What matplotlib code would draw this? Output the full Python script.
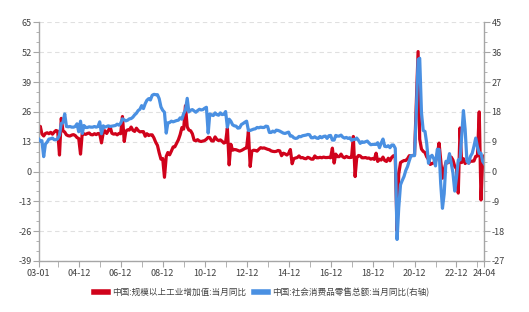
import matplotlib
matplotlib.use("Agg")
from matplotlib import pyplot as plt
from matplotlib.lines import Line2D
from matplotlib.ticker import MultipleLocator
import pandas as pd

plt.rcParams['font.family'] = ['Noto Sans CJK SC', 'DejaVu Sans']
plt.rcParams['axes.unicode_minus'] = False

# 中国:规模以上工业增加值:当月同比 (左轴), 2003-01 .. 2024-04
ind = (
    [17.5, 19.7, 16.4, 15.5, 16.6, 16.9, 16.5, 17.1, 16.3, 17.2, 17.9, 17.6]    # 2003
    + [7.2, 23.2, 17.8, 17.2, 16.0, 15.6, 15.5, 15.9, 16.1, 15.7, 14.8, 14.4]   # 2004
    + [7.6, 16.9, 16.4, 16.2, 16.6, 16.8, 16.1, 16.0, 16.5, 16.1, 16.6, 16.5]   # 2005
    + [12.5, 17.0, 17.8, 16.6, 17.9, 19.5, 16.7, 16.3, 16.5, 16.0, 16.6, 16.5]  # 2006
    + [24.0, 13.1, 17.6, 18.2, 18.1, 19.4, 18.0, 17.5, 18.9, 17.9, 17.3, 17.4]  # 2007
    + [17.4, 15.4, 16.5, 15.7, 16.0, 16.0, 14.7, 12.8, 11.4, 8.2, 5.4, 5.7]     # 2008
    + [-2.5, 6.6, 8.3, 7.3, 8.9, 10.7, 10.8, 12.3, 13.9, 16.1, 19.2, 18.5]      # 2009
    + [28.7, 19.5, 18.1, 17.8, 16.5, 13.7, 13.4, 13.9, 13.3, 13.1, 13.3, 13.5]  # 2010
    + [14.1, 14.9, 14.8, 13.4, 13.3, 15.1, 14.0, 13.5, 13.8, 13.2, 12.4, 12.8]  # 2011
    + [19.0, 2.9, 11.9, 9.3, 9.6, 9.5, 9.2, 8.9, 9.2, 9.6, 10.1, 10.3]          # 2012
    + [17.5, 2.2, 8.9, 9.3, 9.2, 8.9, 9.7, 10.4, 10.2, 10.3, 10.0, 9.7]         # 2013
    + [9.5, 9.0, 8.8, 8.7, 8.8, 9.2, 9.0, 6.9, 8.0, 7.7, 7.2, 7.9]              # 2014
    + [9.6, 3.4, 5.6, 5.9, 6.1, 6.8, 6.0, 6.1, 5.7, 5.6, 6.2, 5.9]              # 2015
    + [5.4, 5.4, 6.8, 6.0, 6.0, 6.2, 6.0, 6.3, 6.1, 6.1, 6.2, 6.0]              # 2016
    + [10.2, 3.7, 7.6, 6.5, 6.5, 7.6, 6.4, 6.0, 6.6, 6.2, 6.1, 6.2]             # 2017
    + [15.3, -2.2, 6.0, 7.0, 6.8, 6.0, 6.0, 6.1, 5.8, 5.9, 5.4, 5.7]            # 2018
    + [5.3, 8.0, 4.4, 5.4, 5.0, 6.3, 4.8, 4.4, 5.8, 4.7, 6.2, 6.9]              # 2019
    + [6.0, -25.9, -1.1, 3.9, 4.4, 4.8, 4.8, 5.6, 6.9, 6.9, 7.0, 7.3]           # 2020
    + [30.0, 52.3, 14.1, 9.8, 8.8, 8.3, 6.4, 5.3, 3.1, 3.5, 3.8, 4.3]           # 2021
    + [7.5, 12.4, 5.0, -2.9, 0.7, 3.9, 3.8, 4.2, 6.3, 5.0, 2.2, 1.3]            # 2022
    + [-9.4, 19.0, 3.9, 5.6, 3.5, 4.4, 3.7, 4.5, 4.5, 4.6, 6.6, 6.8]            # 2023
    + [26.0, -12.4, 4.5, 6.7]                                                    # 2024
)

# 中国:社会消费品零售总额:当月同比 (右轴)
ret = (
    [9.9, 9.2, 9.3, 4.5, 8.3, 8.9, 9.8, 9.9, 10.1, 9.6, 9.6, 9.9]               # 2003
    + [11.0, 14.5, 14.8, 17.4, 13.6, 13.5, 13.6, 13.4, 13.4, 13.6, 14.4, 12.0]  # 2004
    + [15.2, 11.5, 13.9, 13.3, 13.3, 13.5, 13.4, 13.4, 13.6, 13.4, 13.6, 15.0]  # 2005
    + [11.4, 13.8, 13.4, 13.6, 13.8, 13.6, 13.7, 13.8, 13.9, 14.3, 14.0, 14.6]  # 2006
    + [15.9, 15.6, 15.3, 15.5, 15.9, 16.0, 16.4, 17.1, 17.6, 18.4, 18.8, 19.9]  # 2007
    + [19.0, 20.5, 21.5, 22.0, 21.6, 23.0, 23.3, 23.2, 23.2, 22.0, 19.5, 18.5]  # 2008
    + [17.9, 11.6, 14.7, 14.8, 15.2, 15.0, 15.2, 15.4, 15.5, 16.2, 15.8, 17.5]  # 2009
    + [18.5, 22.1, 18.0, 18.5, 18.7, 18.3, 17.9, 18.4, 18.8, 18.6, 18.7, 19.1]  # 2010
    + [19.4, 11.6, 17.4, 17.1, 16.9, 17.7, 17.2, 17.0, 17.7, 17.2, 17.3, 18.1]  # 2011
    + [13.4, 15.8, 15.2, 14.1, 13.8, 13.7, 13.1, 13.2, 14.2, 14.5, 14.9, 15.2]  # 2012
    + [12.4, 12.4, 12.6, 12.8, 12.9, 13.3, 13.2, 13.4, 13.3, 13.3, 13.7, 13.6]  # 2013
    + [11.8, 11.8, 12.2, 11.9, 12.5, 12.4, 12.2, 11.9, 11.6, 11.5, 11.7, 11.9]  # 2014
    + [10.7, 10.7, 10.2, 10.0, 10.1, 10.6, 10.5, 10.8, 10.9, 11.0, 11.2, 11.1]  # 2015
    + [10.2, 10.2, 10.5, 10.1, 10.0, 10.6, 10.2, 10.6, 10.7, 10.0, 10.8, 10.9]  # 2016
    + [9.5, 9.5, 10.9, 10.7, 10.7, 11.0, 10.4, 10.1, 10.3, 10.0, 10.2, 9.4]     # 2017
    + [9.7, 9.7, 10.1, 9.4, 8.5, 9.0, 8.8, 9.0, 9.2, 8.6, 8.1, 8.2]             # 2018
    + [8.2, 8.2, 8.7, 7.2, 8.6, 9.8, 7.6, 7.5, 7.8, 7.2, 8.0, 8.0]              # 2019
    + [7.0, -20.5, -11.0, -4.0, -2.7, -1.5, 0.3, 1.5, 3.3, 4.8, 4.8, 4.8]       # 2020
    + [18.0, 33.8, 34.2, 17.7, 12.4, 12.1, 8.5, 2.5, 4.4, 4.9, 3.9, 1.7]        # 2021
    + [6.7, 6.7, -3.5, -11.1, -6.7, 3.1, 2.7, 5.4, 2.5, -0.5, -5.9, -1.8]       # 2022
    + [3.5, 3.5, 10.6, 18.4, 12.7, 3.1, 2.5, 4.6, 5.5, 7.6, 10.1, 7.4]          # 2023
    + [5.5, 5.5, 3.1, 2.3]                                                       # 2024
)

fechas = pd.date_range('2003-01-01', periods=len(ind), freq='MS')
etiquetas = ['中国:规模以上工业增加值:当月同比', '中国:社会消费品零售总额:当月同比(右轴)']
rojo = '#d0021b'
azul = '#4a90e2'
gris = '#a6a6a6'
texto = '#404040'

fig = plt.figure(figsize=(5.29, 3.12), dpi=100)
ax = fig.add_axes([0.0728, 0.1635, 0.843, 0.7645])
ax2 = ax.twinx()

ax.plot(fechas, ind, color=rojo, lw=2.3, solid_joinstyle='round')
ax2.plot(fechas, ret, color=azul, lw=2.3, solid_joinstyle='round')

# ejes y
ax.set_ylim(-39, 65)
ax.yaxis.set_major_locator(MultipleLocator(13))
ax.yaxis.set_minor_locator(MultipleLocator(13 / 3))
ax2.set_ylim(-27, 45)
ax2.yaxis.set_major_locator(MultipleLocator(9))
ax2.yaxis.set_minor_locator(MultipleLocator(3))

# eje x
ax.set_xlim(fechas[0], fechas[-1])
mayores = [pd.Timestamp('2003-01-01')] + [pd.Timestamp(f'{a}-12-01') for a in range(2004, 2023, 2)] + [pd.Timestamp('2024-04-01')]
menores = [pd.Timestamp(f'{a}-12-01') for a in range(2003, 2024, 2)]
ax.set_xticks(mayores)
ax.set_xticklabels([f.strftime('%y-%m') for f in mayores])
ax.set_xticks(menores, minor=True)

ax.yaxis.grid(True, which='major', linestyle=(0, (4, 3)), color='#e0e0e0', lw=0.8)
ax.set_axisbelow(True)

for a in (ax, ax2):
    for s in a.spines.values():
        s.set_color(gris)
        s.set_linewidth(1.0)
    a.spines['top'].set_visible(False)
ax.spines['right'].set_visible(False)
ax2.spines['left'].set_visible(False)
ax2.spines['bottom'].set_visible(False)

ax.tick_params(axis='y', which='major', length=4, color=gris, labelsize=6.5, labelcolor=texto, pad=1)
ax.tick_params(axis='y', which='minor', length=2.5, color=gris)
ax2.tick_params(axis='y', which='major', length=4, color=gris, labelsize=6.5, labelcolor=texto, pad=1)
ax2.tick_params(axis='y', which='minor', length=2.5, color=gris)
ax.tick_params(axis='x', which='both', length=4, color=gris, labelsize=6.5, labelcolor=texto, pad=2)

manijas = [Line2D([], [], color=rojo, lw=4), Line2D([], [], color=azul, lw=4)]
fig.legend(manijas, etiquetas, loc='center', bbox_to_anchor=(0.495, 0.064), ncol=2,
           frameon=False, fontsize=6.2, handlelength=1.6, handletextpad=0.5,
           columnspacing=0.9, labelcolor=texto)

plt.savefig("out.png", dpi=100)
